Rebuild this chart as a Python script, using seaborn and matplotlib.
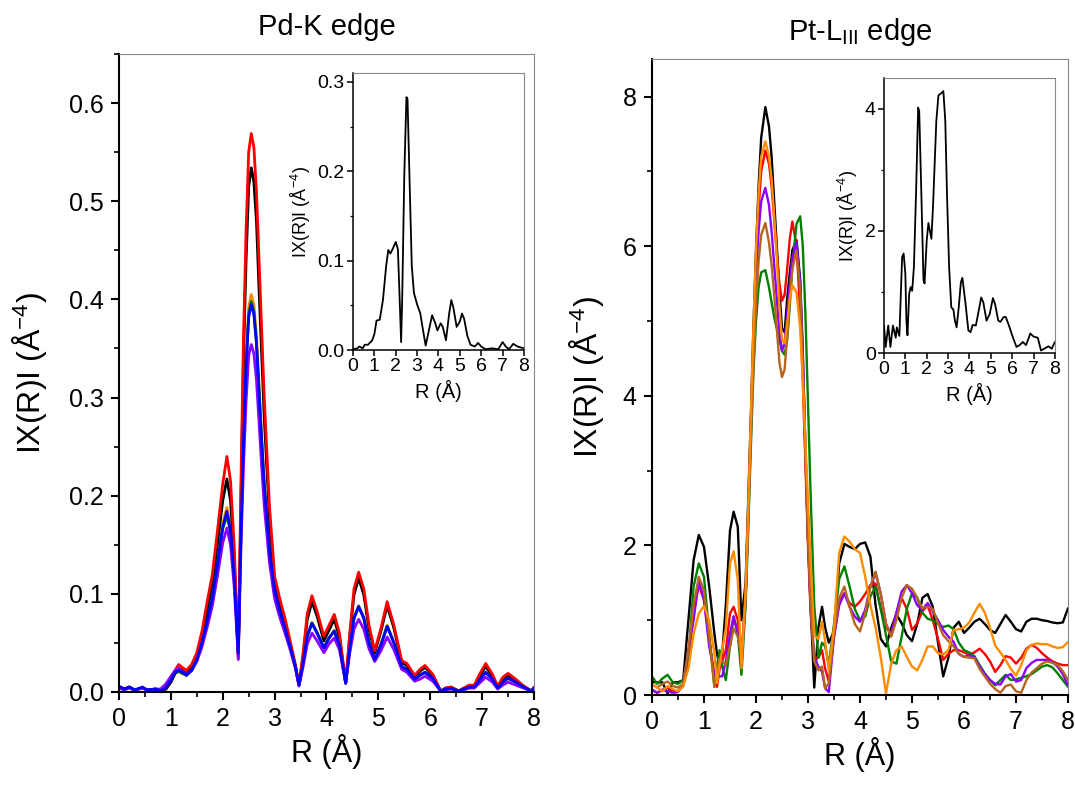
import numpy as np
import pandas as pd
import matplotlib
matplotlib.use("Agg")
import matplotlib.pyplot as plt
from matplotlib.ticker import MultipleLocator
import seaborn as sns

# ---------------- Pd-K edge (left panel) ----------------
r_pd = [0, 0.1, 0.2, 0.3, 0.45, 0.55, 0.7, 0.8, 0.9, 1.0, 1.08, 1.15, 1.22, 1.3, 1.4, 1.5,
        1.6, 1.7, 1.8, 1.9, 2.0, 2.08, 2.15, 2.22, 2.3, 2.35, 2.4, 2.45, 2.5, 2.55, 2.6,
        2.65, 2.7, 2.75, 2.8, 2.9, 3.0, 3.1, 3.2, 3.3, 3.4, 3.47, 3.55, 3.63, 3.72, 3.82,
        3.95, 4.05, 4.15, 4.25, 4.37, 4.45, 4.53, 4.62, 4.72, 4.82, 4.93, 5.05, 5.17, 5.3,
        5.45, 5.55, 5.7, 5.8, 5.9, 6.05, 6.2, 6.3, 6.4, 6.55, 6.65, 6.75, 6.85, 6.95, 7.07,
        7.2, 7.3, 7.4, 7.5, 7.65, 7.8, 7.95, 8.0]

pd_red = [.005, .003, .005, .002, .004, .002, .003, .002, .004, .012, .022, .028, .025, .022, .028, .040,
          .062, .092, .120, .165, .212, .240, .215, .150, .035, .210, .360, .470, .550, .569, .555,
          .510, .440, .370, .300, .190, .118, .095, .075, .052, .028, .007, .040, .080, .098, .082,
          .057, .068, .079, .060, .009, .060, .105, .122, .105, .068, .042, .065, .092, .068,
          .032, .029, .017, .023, .027, .018, .001, .004, .005, .001, .004, .007, .007, .018, .029,
          .018, .006, .015, .019, .013, .006, .001, .005]
pd_black = [.005, .003, .005, .002, .004, .002, .003, .002, .003, .010, .019, .024, .022, .019, .026, .038,
            .058, .085, .112, .152, .195, .217, .195, .138, .035, .190, .340, .440, .515, .534, .520,
            .480, .410, .345, .280, .178, .112, .090, .071, .049, .026, .007, .037, .074, .092, .077,
            .052, .063, .074, .056, .009, .057, .099, .116, .099, .064, .040, .062, .088, .065,
            .030, .027, .016, .021, .025, .017, .001, .004, .005, .001, .004, .006, .006, .016, .026,
            .016, .005, .013, .017, .012, .006, .001, .004]
pd_orange = [.005, .003, .005, .002, .004, .002, .002, .001, .002, .010, .019, .021, .019, .017, .022, .034,
             .052, .075, .099, .135, .172, .188, .168, .120, .040, .160, .260, .338, .392, .405, .395,
             .363, .312, .260, .214, .147, .104, .083, .066, .046, .026, .007, .031, .058, .071, .061,
             .045, .055, .063, .048, .009, .046, .076, .088, .076, .051, .034, .049, .068, .051,
             .026, .023, .013, .017, .020, .014, .001, .003, .004, .001, .003, .005, .005, .012, .020,
             .013, .004, .010, .014, .010, .005, .001, .004]
pd_green = [.005, .003, .005, .002, .004, .002, .002, .001, .003, .011, .019, .021, .019, .017, .022, .033,
            .051, .073, .097, .131, .166, .180, .163, .117, .040, .160, .256, .332, .385, .398, .388,
            .357, .307, .256, .211, .145, .103, .082, .065, .046, .026, .007, .030, .057, .070, .060,
            .045, .055, .062, .048, .009, .045, .075, .087, .075, .050, .033, .048, .067, .050,
            .026, .023, .013, .017, .020, .014, .001, .003, .004, .001, .003, .005, .005, .012, .020,
            .013, .004, .010, .014, .010, .005, .001, .004]
pd_blue = [.006, .003, .005, .002, .005, .002, .003, .001, .004, .012, .020, .022, .020, .017, .022, .033,
           .050, .072, .096, .130, .168, .184, .165, .118, .040, .160, .255, .330, .382, .395, .385,
           .355, .305, .255, .210, .145, .103, .082, .065, .046, .026, .007, .030, .057, .070, .060,
           .045, .055, .062, .048, .009, .045, .075, .087, .075, .050, .033, .048, .067, .050,
           .026, .023, .013, .017, .020, .014, .001, .003, .004, .001, .003, .005, .005, .012, .020,
           .013, .004, .010, .014, .010, .005, .001, .004]
pd_purple = [.004, .002, .004, .002, .004, .002, .003, .003, .008, .016, .022, .024, .021, .018, .022, .031,
             .046, .066, .088, .119, .152, .167, .150, .108, .033, .145, .230, .296, .343, .354, .345,
             .318, .275, .230, .190, .132, .095, .076, .060, .043, .024, .006, .026, .049, .060, .052,
             .040, .049, .055, .043, .009, .040, .064, .074, .064, .044, .031, .042, .056, .043,
             .023, .020, .011, .013, .016, .011, .001, .002, .003, .001, .002, .004, .004, .009, .015,
             .010, .003, .007, .010, .007, .004, .001, .003]

# Pd inset (single black curve)
r_pd_in = [0, 0.2, 0.3, 0.45, 0.55, 0.7, 0.9, 1.0, 1.1, 1.25, 1.4, 1.55, 1.65, 1.75, 1.85, 2.0,
           2.1, 2.2, 2.25, 2.3, 2.4, 2.5, 2.55, 2.65, 2.75, 2.85, 3.0, 3.15, 3.25, 3.4, 3.55,
           3.7, 3.85, 3.95, 4.1, 4.2, 4.35, 4.5, 4.6, 4.7, 4.85, 5.0, 5.1, 5.2, 5.35, 5.5,
           5.7, 5.85, 6.0, 6.2, 6.5, 6.8, 7.0, 7.15, 7.3, 7.5, 7.7, 8.0]
pd_in = [.001, .002, .004, .002, .006, .006, .011, .018, .033, .034, .056, .094, .112, .108, .113, .121,
         .113, .045, .009, .056, .197, .283, .281, .186, .094, .064, .051, .041, .026, .005, .022,
         .039, .030, .022, .030, .026, .011, .041, .056, .047, .026, .032, .041, .035, .016, .006,
         .004, .008, .004, .001, .002, .001, .009, .004, .001, .007, .004, .002]

# ---------------- Pt-LIII edge (right panel) ----------------
r_pt = [0, 0.1, 0.2, 0.3, 0.4, 0.5, 0.6, 0.7, 0.8, 0.9, 1.0, 1.1, 1.2, 1.25, 1.3, 1.35, 1.42,
        1.5, 1.57, 1.65, 1.72, 1.8, 1.85, 1.9, 1.95, 2.0, 2.05, 2.1, 2.18, 2.25, 2.3, 2.35,
        2.4, 2.45, 2.5, 2.55, 2.6, 2.65, 2.7, 2.78, 2.85, 2.9, 2.95, 3.0, 3.05, 3.12,
        3.2, 3.27, 3.33, 3.4, 3.5, 3.6, 3.7, 3.8, 3.9, 4.0, 4.1, 4.2, 4.3,
        4.4, 4.5, 4.6, 4.7, 4.8, 4.9, 5.0, 5.1, 5.2, 5.3, 5.4, 5.5, 5.6, 5.7, 5.8, 5.9, 6.0,
        6.1, 6.2, 6.3, 6.4, 6.5, 6.6, 6.7, 6.8, 6.9, 7.0, 7.1, 7.2, 7.3, 7.4, 7.5, 7.6, 7.7,
        7.8, 7.9, 8.0]

pt_black = [.18, .17, .17, .02, .17, .17, .2, 1.0, 1.8, 2.14, 1.98, 1.45, .82, .55, .40, .55, 1.2,
            2.2, 2.45, 2.25, 1.0, 1.5, 2.6, 3.7, 4.9, 5.95, 6.8, 7.45, 7.86, 7.6, 7.2, 6.6,
            6.0, 5.4, 4.9, 4.85, 5.3, 5.65, 5.95, 6.08, 5.55, 4.6, 3.3, 2.1, 1.2, .1,
            .9, 1.18, .9, .7, .85, 1.76, 2.02, 1.98, 1.95, 2.02, 2.04, 1.85, 1.2,
            .75, .65, .9, 1.08, .96, .8, .72, .95, 1.3, 1.35, 1.18, .7, .25, .5, .9, .98, .83,
            .9, .98, 1.02, .95, .87, .83, .95, 1.07, .98, .88, .85, .98, 1.02, 1.02, 1.0, .99, .97,
            .96, .97, 1.16]
pt_green = [.25, .15, .22, .27, .17, .15, .2, .5, 1.45, 1.76, 1.58, .82, .11, .4, .6, .38, .2,
            .65, 1.05, .82, .27, 1.2, 2.2, 3.3, 4.3, 5.0, 5.45, 5.65, 5.68, 5.45, 5.25, 5.05,
            4.9, 4.75, 4.6, 4.55, 4.75, 5.2, 5.75, 6.3, 6.4, 6.0, 5.1, 3.9, 2.7, 1.2,
            .5, .7, .65, .4, .95, 1.55, 1.72, 1.45, 1.15, 1.0, 1.05, 1.32, 1.45,
            1.15, .8, .45, .42, .78, 1.15, 1.36, 1.3, 1.1, 1.02, 1.0, .95, .91, .93, .88, .7, .6,
            .57, .52, .4, .29, .2, .13, .2, .27, .2, .21, .23, .25, .28, .33, .38, .4, .37,
            .29, .2, .11]
pt_red = [.07, .03, .07, .1, .05, .05, .12, .45, 1.1, 1.47, 1.27, .74, .25, .11, .35, .45, .6,
          1.09, 1.18, 1.0, .47, 1.3, 2.4, 3.6, 4.7, 5.7, 6.5, 7.0, 7.28, 7.1, 6.8, 6.35,
          5.9, 5.5, 5.27, 5.35, 5.7, 6.1, 6.33, 6.0, 5.1, 4.2, 3.1, 2.0, 1.1, .5,
          .5, .6, .35, .18, .78, 1.25, 1.36, 1.23, 1.18, 1.25, 1.35, 1.47, 1.49,
          1.15, .9, .82, 1.1, 1.3, 1.15, .87, .96, 1.12, 1.2, 1.0, .75, .47, .55, .6, .6, .57,
          .54, .57, .62, .55, .45, .31, .4, .52, .5, .42, .5, .62, .67, .63, .56, .5, .45,
          .42, .4, .4]
pt_orange = [.15, .1, .05, .12, .08, .05, .12, .35, .82, 1.09, 1.19, 1.0, .56, .16, .4, .6, .9,
             1.76, 1.92, 1.54, .36, 1.4, 2.5, 3.7, 4.9, 5.95, 6.7, 7.2, 7.4, 7.2, 6.9, 6.4,
             5.85, 5.2, 4.75, 4.7, 4.95, 5.3, 5.48, 5.38, 4.9, 4.2, 3.4, 2.6, 1.8, .8,
             .75, .98, .72, .33, .91, 1.9, 2.12, 2.05, 1.95, 1.9, 1.58, 1.2, .9,
             .5, .02, .42, .6, .65, .51, .38, .33, .47, .65, .65, .56, .54, .6, .87, .88, .9,
             .97, 1.1, 1.22, 1.1, .9, .66, .57, .47, .35, .26, .4, .6, .67, .69, .68, .68, .65,
             .63, .64, .71]
pt_purple = [.07, .03, .07, .05, .03, .04, .15, .6, 1.0, 1.54, 1.27, .65, .29, .25, .25, .25, .45,
             .82, 1.05, .82, .47, 1.3, 2.4, 3.6, 4.7, 5.6, 6.2, 6.6, 6.78, 6.55, 6.2, 5.75,
             5.3, 4.85, 4.6, 4.7, 5.1, 5.5, 5.85, 6.05, 5.5, 4.5, 3.3, 2.1, 1.2, .5,
             .38, .31, .09, .04, .78, 1.2, 1.36, 1.18, 1.05, .98, 1.14, 1.45, 1.63,
             1.35, .95, .8, 1.1, 1.38, 1.47, 1.36, 1.2, 1.14, 1.23, 1.12, 1.0, .87, .78, .71, .55, .51,
             .53, .5, .38, .28, .2, .15, .14, .25, .28, .18, .2, .36, .43, .47, .47, .47, .44,
             .38, .28, .13]
pt_brown = [.15, .1, .15, .18, .12, .1, .15, .6, 1.2, 1.58, 1.4, .78, .11, .3, .49, .45, .4,
            .65, .89, .78, .54, 1.3, 2.3, 3.4, 4.4, 5.2, 5.8, 6.15, 6.31, 6.05, 5.75, 5.35,
            4.9, 4.45, 4.25, 4.35, 4.8, 5.3, 5.7, 5.94, 5.4, 4.4, 3.2, 2.1, 1.2, .45,
            .33, .38, .09, .16, .82, 1.3, 1.45, 1.18, .95, .85, 1.09, 1.45, 1.65,
            1.35, .95, .78, 1.0, 1.3, 1.47, 1.42, 1.3, 1.16, 1.18, 1.15, .96, .8, .72, .65, .55, .51,
            .5, .49, .35, .25, .15, .08, .03, .12, .14, .05, .03, .2, .3, .36, .42, .45, .43,
            .4, .32, .2]

# Pt inset (single black curve)
r_pt_in = [0, 0.08, 0.2, 0.3, 0.42, 0.55, 0.6, 0.72, 0.85, 0.92, 1.0, 1.05, 1.1, 1.18, 1.25,
           1.32, 1.4, 1.5, 1.6, 1.65, 1.75, 1.85, 1.9, 2.0, 2.08, 2.15, 2.22, 2.3, 2.45, 2.55,
           2.7, 2.78, 2.87, 2.95, 3.05, 3.15, 3.25, 3.32, 3.4, 3.5, 3.6, 3.67, 3.8, 3.95, 4.05,
           4.15, 4.3, 4.45, 4.55, 4.65, 4.8, 4.95, 5.1, 5.2, 5.35, 5.45, 5.6, 5.7, 5.85, 6.0,
           6.2, 6.35, 6.5, 6.65, 6.85, 7.0, 7.2, 7.35, 7.5, 7.7, 7.85, 8.0]
pt_in = [.45, .1, .45, .1, .45, .25, .42, .28, 1.57, 1.63, 1.3, .53, .29, .97, 1.08,
         1.02, 1.4, 2.6, 4.02, 3.96, 2.6, 1.19, 1.14, 1.84, 2.13, 2.0, 1.87, 2.44, 3.8, 4.22,
         4.26, 4.29, 3.8, 2.6, 1.4, .75, .71, .53, .42, .75, 1.16, 1.23, .86, .37, .34,
         .46, .45, .72, .91, .83, .53, .64, .9, .8, .53, .51, .59, .59, .45, .29,
         .1, .13, .18, .13, .32, .27, .25, .04, .07, .11, .07, .18]

pd_colors = {"orange": "#ff8c00", "green": "#008000", "black": "black",
             "red": "#ff0000", "purple": "#8b00ff", "blue": "#0000ff"}
pt_colors = {"black": "black", "red": "#ff0000", "green": "#008000",
             "purple": "#8b00ff", "brown": "#b5651d", "orange": "#ff8c00"}

sns.set_style("ticks")
plt.rcParams["font.family"] = ["Liberation Sans", "DejaVu Sans"]
plt.rcParams["mathtext.fontset"] = "custom"
plt.rcParams["mathtext.rm"] = "Liberation Sans"
plt.rcParams["mathtext.it"] = "Liberation Sans:italic"
plt.rcParams["mathtext.bf"] = "Liberation Sans:bold"
for key in ["text.color", "axes.labelcolor", "xtick.color", "ytick.color"]:
    plt.rcParams[key] = "black"

ylab = "IX(R)I (Å$^{-4}$)"

fig = plt.figure(figsize=(10.75, 7.85), dpi=100)


def style_axes(ax, fs, major_w=1.5):
    for s in ["left", "bottom"]:
        ax.spines[s].set_linewidth(major_w)
        ax.spines[s].set_color("black")
    for s in ["top", "right"]:
        ax.spines[s].set_linewidth(0.8)
        ax.spines[s].set_color("#888888")
    ax.tick_params(which="major", direction="out", length=6, width=major_w,
                   labelsize=fs, top=False, right=False, pad=5)
    ax.tick_params(which="minor", direction="out", length=3.5, width=major_w * 0.8,
                   top=False, right=False)


# left main
ax1 = fig.add_axes([0.1107, 0.1185, 0.386, 0.8127])
for name, vals in [("orange", pd_orange), ("green", pd_green), ("black", pd_black),
                   ("red", pd_red), ("purple", pd_purple), ("blue", pd_blue)]:
    sns.lineplot(x=r_pd, y=vals, ax=ax1, color=pd_colors[name], lw=2.0, legend=False)
ax1.set_xlim(0, 8)
ax1.set_ylim(0, 0.65)
ax1.xaxis.set_major_locator(MultipleLocator(1))
ax1.xaxis.set_minor_locator(MultipleLocator(0.5))
ax1.yaxis.set_major_locator(MultipleLocator(0.1))
ax1.yaxis.set_minor_locator(MultipleLocator(0.05))
ax1.yaxis.set_major_formatter(plt.FuncFormatter(lambda v, p: f"{v:.1f}"))
style_axes(ax1, 18)
ax1.set_xlabel("R (Å)", fontsize=22, labelpad=2)
ax1.set_ylabel(ylab, fontsize=23, labelpad=14)
ax1.set_title("Pd-K edge", fontsize=21, pad=14)

# left inset
ax1i = fig.add_axes([0.3284, 0.554, 0.159, 0.353])
sns.lineplot(x=r_pd_in, y=pd_in, ax=ax1i, color="black", lw=1.3, legend=False)
ax1i.set_xlim(0, 8)
ax1i.set_ylim(0, 0.31)
ax1i.xaxis.set_major_locator(MultipleLocator(1))
ax1i.yaxis.set_major_locator(MultipleLocator(0.1))
ax1i.yaxis.set_minor_locator(MultipleLocator(0.05))
ax1i.yaxis.set_major_formatter(plt.FuncFormatter(lambda v, p: f"{v:.1f}"))
style_axes(ax1i, 14, major_w=1.1)
ax1i.tick_params(which="major", length=4, pad=2)
ax1i.tick_params(which="minor", length=2)
ax1i.set_xlabel("R (Å)", fontsize=14.5, labelpad=3)
ax1i.set_ylabel(ylab, fontsize=13, labelpad=3)

# right main
ax2 = fig.add_axes([0.6065, 0.1146, 0.387, 0.810])
for name, vals in [("black", pt_black), ("red", pt_red), ("green", pt_green),
                   ("purple", pt_purple), ("brown", pt_brown), ("orange", pt_orange)]:
    sns.lineplot(x=r_pt, y=vals, ax=ax2, color=pt_colors[name], lw=1.7, legend=False)
ax2.set_xlim(0, 8)
ax2.set_ylim(0, 8.5)
ax2.xaxis.set_major_locator(MultipleLocator(1))
ax2.xaxis.set_minor_locator(MultipleLocator(0.5))
ax2.yaxis.set_major_locator(MultipleLocator(2))
ax2.yaxis.set_minor_locator(MultipleLocator(1))
style_axes(ax2, 18)
ax2.set_xlabel("R (Å)", fontsize=22, labelpad=2)
ax2.set_ylabel(ylab, fontsize=23, labelpad=12)
ax2.set_title("Pt-L$_{\\mathrm{III}}$ edge", fontsize=21, pad=14)

# right inset
ax2i = fig.add_axes([0.8223, 0.5503, 0.159, 0.350])
sns.lineplot(x=r_pt_in, y=pt_in, ax=ax2i, color="black", lw=1.3, legend=False)
ax2i.set_xlim(0, 8)
ax2i.set_ylim(0, 4.5)
ax2i.xaxis.set_major_locator(MultipleLocator(1))
ax2i.yaxis.set_major_locator(MultipleLocator(2))
ax2i.yaxis.set_minor_locator(MultipleLocator(1))
style_axes(ax2i, 14, major_w=1.1)
ax2i.tick_params(which="major", length=4, pad=2)
ax2i.tick_params(which="minor", length=2)
ax2i.set_xlabel("R (Å)", fontsize=14.5, labelpad=3)
ax2i.set_ylabel(ylab, fontsize=13, labelpad=3)

fig.savefig("out.png", dpi=100)
